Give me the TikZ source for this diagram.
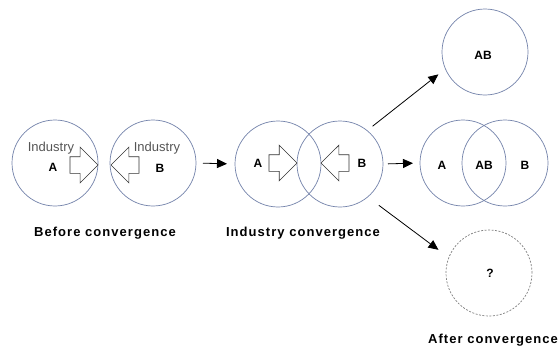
\documentclass[tikz,border=0pt]{standalone}
\usepackage{fontspec}
\setmainfont{Liberation Sans}
\newfontfamily\labelfont[LetterSpace=8]{Liberation Sans}
\usetikzlibrary{arrows.meta,shapes.arrows}
\definecolor{ringblue}{RGB}{115,130,170}
\definecolor{inkgray}{RGB}{85,85,85}
\tikzset{
	ring/.style={circle, draw=ringblue, line width=0.7pt, minimum size=86pt, inner sep=0pt, outer sep=0pt},
	ghostring/.style={ring, draw=gray, dash pattern=on 2pt off 1.5pt},
	push/.style={single arrow, draw=black!80, line width=0.7pt, fill=white, inner sep=0pt, outer sep=0pt,
		text width=0pt, text height=8pt, text depth=8pt, minimum height=28pt, single arrow head extend=9.5pt, anchor=tip},
	flow/.style={-{Triangle[length=10pt,width=9pt]}, line width=0.8pt},
	tag/.style={font=\fontsize{12}{14}\selectfont\bfseries},
	caption/.style={font=\labelfont\fontsize{13}{15}\selectfont\bfseries},
	sector/.style={font=\fontsize{13}{15}\selectfont, text=inkgray}
}

\begin{document}
\begin{tikzpicture}[x=1pt, y=-1pt]
	%%%%% START %%%%%
	\useasboundingbox (0,0) rectangle (560,348);
	
	% before convergence
	\node[ring] (preA) at (55,163) {};
	\node[ring] (preB) at (153,163) {};
	\node[push] (preApush) at (98,165) {};
	\node[push, shape border rotate=180] (preBpush) at (111,165) {};
	\node[sector] (preAname) at (51,148) {Industry};
	\node[sector] (preBname) at (157,148) {Industry};
	\node[tag] (preAtag) at (53,167) {A};
	\node[tag] (preBtag) at (160,168) {B};
	\node[caption] (preCap) at (105,233) {Before convergence};
	
	% industry convergence
	\node[ring] (midA) at (278,164) {};
	\node[ring] (midB) at (340,164) {};
	\node[push] (midApush) at (297,163) {};
	\node[push, shape border rotate=180] (midBpush) at (321,163) {};
	\node[tag] (midAtag) at (258,163) {A};
	\node[tag] (midBtag) at (362,163) {B};
	\node[caption] (midCap) at (303,233) {Industry convergence};
	
	% after convergence
	\node[ring] (mergeAB) at (485,52) {};
	\node[tag] (mergeTag) at (483,55) {AB};
	
	\node[ring] (keepA) at (463,163) {};
	\node[ring] (keepB) at (505,163) {};
	\node[tag] (keepAtag) at (442,165) {A};
	\node[tag] (keepABtag) at (484,165) {AB};
	\node[tag] (keepBtag) at (525,165) {B};
	
	\node[ghostring] (unknown) at (489,273) {};
	\node[tag] (unknownTag) at (490,273) {?};
	\node[caption] (postCap) at (493,340) {After convergence};
	
	% flows
	\draw[flow, shorten <=7pt, shorten >=8pt] (preB.east) -- (midA.west);
	\draw[flow, shorten <=5pt, shorten >=7pt] (midB.east) -- (keepA.west);
	\draw[flow, shorten <=7pt, shorten >=9pt] (midB.51) -- (mergeAB.203);
	\draw[flow, shorten <=14pt, shorten >=13pt] (midB.-50) -- (unknown.159);
	%%%%% END %%%%%
\end{tikzpicture}
\end{document}
